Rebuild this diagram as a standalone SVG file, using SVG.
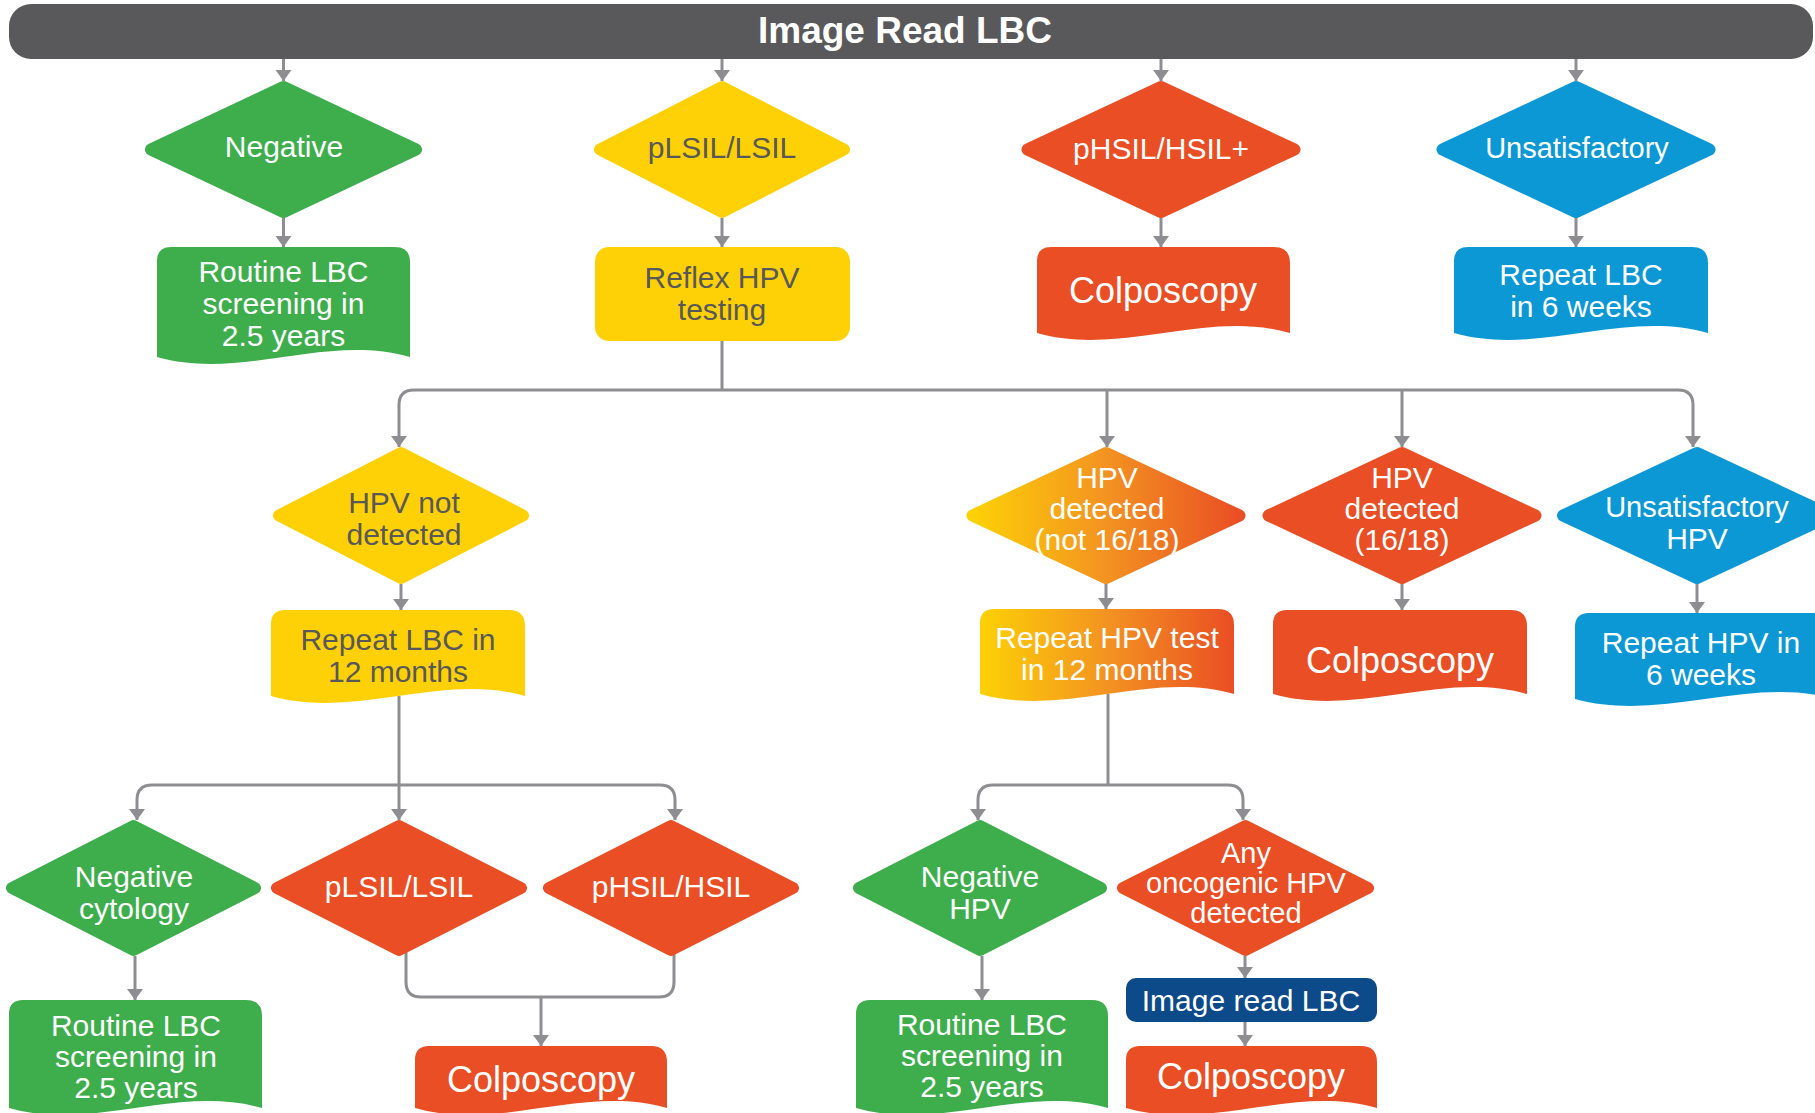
<svg xmlns="http://www.w3.org/2000/svg" width="1815" height="1113" viewBox="0 0 1815 1113">
<defs>
<style>
.t{font-family:"Liberation Sans",Arial,sans-serif;font-size:30px;text-anchor:middle;fill:#ffffff}
.dk{fill:#58585a}
.big{font-size:36px}
.sm{font-size:29px}
.hd{font-family:"Liberation Sans",Arial,sans-serif;font-size:37px;font-weight:bold;text-anchor:middle;fill:#ffffff}
.c{fill:none;stroke:#8e8e92;stroke-width:3}
.ca{fill:none;stroke:#8e8e92;stroke-width:3;marker-end:url(#ah)}
.g{fill:#3dae4b;stroke:#3dae4b}
.y{fill:#fdd106;stroke:#fdd106}
.r{fill:#ea4e24;stroke:#ea4e24}
.b{fill:#0b98d5;stroke:#0b98d5}
.o{fill:url(#gr);stroke:url(#gr)}
.dm{stroke-width:12;stroke-linejoin:round}
.bx{stroke:none}
</style>
<linearGradient id="gr" x1="0" y1="0" x2="1" y2="0">
<stop offset="0" stop-color="#fdd106"/>
<stop offset="0.5" stop-color="#f39321"/>
<stop offset="1" stop-color="#ea4e24"/>
</linearGradient>
<marker id="ah" markerUnits="userSpaceOnUse" markerWidth="12" markerHeight="18" viewBox="0 0 12 18" refX="11" refY="9" orient="auto">
<path d="M0,1 L11,9 L0,17 z" fill="#8e8e92"/>
</marker>
</defs>
<rect width="1815" height="1113" fill="#ffffff"/>

<g id="header">
<rect x="9" y="4" width="1804" height="55" rx="22" fill="#59595c"/>
<text class="hd" x="905" y="43">Image Read LBC</text>
</g>

<g id="connectors">
<path class="ca" d="M283.5,59 V81"/>
<path class="ca" d="M722,59 V81"/>
<path class="ca" d="M1161,59 V81"/>
<path class="ca" d="M1576,59 V81"/>
<path class="ca" d="M283.5,218 V247"/>
<path class="ca" d="M722,218 V247"/>
<path class="ca" d="M1161,218 V247"/>
<path class="ca" d="M1576,218 V247"/>
<path class="c" d="M722,341 V390"/>
<path class="ca" d="M722,390 H414 Q399,390 399,405 V447"/>
<path class="ca" d="M722,390 H1678 Q1693,390 1693,405 V447"/>
<path class="ca" d="M1107,390 V447"/>
<path class="ca" d="M1402,390 V447"/>
<path class="ca" d="M401,584 V610"/>
<path class="ca" d="M1106,584 V609"/>
<path class="ca" d="M1402,584 V610"/>
<path class="ca" d="M1697,584 V613"/>
<path class="c" d="M399,696 V785"/>
<path class="ca" d="M399,785 H152 Q137,785 137,800 V820"/>
<path class="ca" d="M399,785 H660 Q675,785 675,800 V820"/>
<path class="ca" d="M399,785 V820"/>
<path class="ca" d="M135,956 V1000"/>
<path class="c" d="M406,950 V982 Q406,997 421,997 H659 Q674,997 674,982 V950"/>
<path class="ca" d="M541,997 V1046"/>
<path class="c" d="M1108,694 V785"/>
<path class="ca" d="M1108,785 H993 Q978,785 978,800 V820"/>
<path class="ca" d="M1108,785 H1228 Q1243,785 1243,800 V820"/>
<path class="ca" d="M982,956 V1000"/>
<path class="ca" d="M1245,956 V978"/>
<path class="ca" d="M1245,1022 V1046"/>
</g>

<g id="negative">
<polygon class="g dm" points="283.5,87 416,149.5 283.5,212 151,149.5"/>
<text class="t" x="284" y="157">Negative</text>
</g>
<g id="plsil">
<polygon class="y dm" points="722,87 844,149.5 722,212 600,149.5"/>
<text class="t dk" x="722" y="158">pLSIL/LSIL</text>
</g>
<g id="phsil">
<polygon class="r dm" points="1161,87 1294.5,149.5 1161,212 1027.5,149.5"/>
<text class="t" x="1161" y="159">pHSIL/HSIL+</text>
</g>
<g id="unsatisfactory">
<polygon class="b dm" points="1576,87 1709.5,149.5 1576,212 1442.5,149.5"/>
<text class="t sm" x="1577" y="158">Unsatisfactory</text>
</g>

<g id="routine1">
<path class="g bx" d="M157,357 V261 Q157,247 171,247 H395 Q410,247 410,262 V357 C325.7,333 241.3,381 157,357 Z"/>
<text class="t" x="283.5" y="282">Routine LBC</text>
<text class="t" x="283.5" y="314">screening in</text>
<text class="t" x="283.5" y="346">2.5 years</text>
</g>
<g id="reflex">
<rect class="y bx" x="595" y="247" width="255" height="94" rx="14"/>
<text class="t dk" x="722" y="288">Reflex HPV</text>
<text class="t dk" x="722" y="320">testing</text>
</g>
<g id="colpo1">
<path class="r bx" d="M1037,333 V261 Q1037,247 1051,247 H1274 Q1290,247 1290,263 V333 C1205.7,309 1121.3,357 1037,333 Z"/>
<text class="t big" x="1163" y="303">Colposcopy</text>
</g>
<g id="repeatlbc6">
<path class="b bx" d="M1454,333 V261 Q1454,247 1468,247 H1692 Q1708,247 1708,263 V333 C1623.3,309 1538.7,357 1454,333 Z"/>
<text class="t" x="1581" y="285">Repeat LBC</text>
<text class="t" x="1581" y="317">in 6 weeks</text>
</g>

<g id="hpvnot">
<polygon class="y dm" points="401,453 523,515.5 401,578 279,515.5"/>
<text class="t dk" x="404" y="513">HPV not</text>
<text class="t dk" x="404" y="545">detected</text>
</g>
<g id="hpvdetnot">
<polygon class="o dm" points="1106,453 1239.5,515.5 1106,578 972.5,515.5"/>
<text class="t" x="1107" y="488">HPV</text>
<text class="t" x="1107" y="519">detected</text>
<text class="t" x="1107" y="550">(not 16/18)</text>
</g>
<g id="hpvdet1618">
<polygon class="r dm" points="1402,453 1535.5,515.5 1402,578 1268.5,515.5"/>
<text class="t" x="1402" y="488">HPV</text>
<text class="t" x="1402" y="519">detected</text>
<text class="t" x="1402" y="550">(16/18)</text>
</g>
<g id="unsathpv">
<polygon class="b dm" points="1697,453 1831,515.5 1697,578 1563,515.5"/>
<text class="t sm" x="1697" y="517">Unsatisfactory</text>
<text class="t" x="1697" y="549">HPV</text>
</g>

<g id="repeatlbc12">
<path class="y bx" d="M271,696 V624 Q271,610 285,610 H509 Q525,610 525,626 V696 C440.3,672 355.7,720 271,696 Z"/>
<text class="t dk" x="398" y="650">Repeat LBC in</text>
<text class="t dk" x="398" y="682">12 months</text>
</g>
<g id="repeathpv12">
<path class="o bx" d="M980,694 V623 Q980,609 994,609 H1218 Q1234,609 1234,625 V694 C1149.3,670 1064.7,718 980,694 Z"/>
<text class="t" x="1107" y="648">Repeat HPV test</text>
<text class="t" x="1107" y="680">in 12 months</text>
</g>
<g id="colpo2">
<path class="r bx" d="M1273,694 V624 Q1273,610 1287,610 H1511 Q1527,610 1527,626 V694 C1442.3,670 1357.7,718 1273,694 Z"/>
<text class="t big" x="1400" y="673">Colposcopy</text>
</g>
<g id="repeathpv6">
<path class="b bx" d="M1575,699 V627 Q1575,613 1589,613 H1819 Q1835,613 1835,629 V699 C1748.3,675 1661.7,723 1575,699 Z"/>
<text class="t" x="1701" y="653">Repeat HPV in</text>
<text class="t" x="1701" y="685">6 weeks</text>
</g>

<g id="negcyto">
<polygon class="g dm" points="133.5,826 255,888 133.5,950 12,888"/>
<text class="t" x="134" y="887">Negative</text>
<text class="t" x="134" y="919">cytology</text>
</g>
<g id="plsil2">
<polygon class="r dm" points="399,826 521,888 399,950 277,888"/>
<text class="t" x="399" y="897">pLSIL/LSIL</text>
</g>
<g id="phsil2">
<polygon class="r dm" points="671,826 793,888 671,950 549,888"/>
<text class="t" x="671" y="897">pHSIL/HSIL</text>
</g>
<g id="neghpv">
<polygon class="g dm" points="980,826 1101,888 980,950 859,888"/>
<text class="t" x="980" y="887">Negative</text>
<text class="t" x="980" y="919">HPV</text>
</g>
<g id="anyonco">
<polygon class="r dm" points="1245.5,826 1368,888 1245.5,950 1123,888"/>
<text class="t sm" x="1246" y="863">Any</text>
<text class="t sm" x="1246" y="893">oncogenic HPV</text>
<text class="t sm" x="1246" y="923">detected</text>
</g>

<g id="routine2">
<path class="g bx" d="M9,1108 V1014 Q9,1000 23,1000 H246 Q262,1000 262,1016 V1108 C177.7,1084 93.3,1132 9,1108 Z"/>
<text class="t" x="136" y="1036">Routine LBC</text>
<text class="t" x="136" y="1067">screening in</text>
<text class="t" x="136" y="1098">2.5 years</text>
</g>
<g id="colpo3">
<path class="r bx" d="M415,1108 V1060 Q415,1046 429,1046 H651 Q667,1046 667,1062 V1108 C583,1084 499,1132 415,1108 Z"/>
<text class="t big" x="541" y="1092">Colposcopy</text>
</g>
<g id="routine3">
<path class="g bx" d="M856,1108 V1014 Q856,1000 870,1000 H1092 Q1108,1000 1108,1016 V1108 C1024,1084 940,1132 856,1108 Z"/>
<text class="t" x="982" y="1035">Routine LBC</text>
<text class="t" x="982" y="1066">screening in</text>
<text class="t" x="982" y="1097">2.5 years</text>
</g>
<g id="imageread">
<rect x="1126" y="978" width="251" height="44" rx="10" fill="#0d4a8a"/>
<text class="t" x="1251" y="1011">Image read LBC</text>
</g>
<g id="colpo4">
<path class="r bx" d="M1126,1108 V1060 Q1126,1046 1140,1046 H1361 Q1377,1046 1377,1062 V1108 C1293.3,1084 1209.7,1132 1126,1108 Z"/>
<text class="t big" x="1251" y="1089">Colposcopy</text>
</g>
</svg>
